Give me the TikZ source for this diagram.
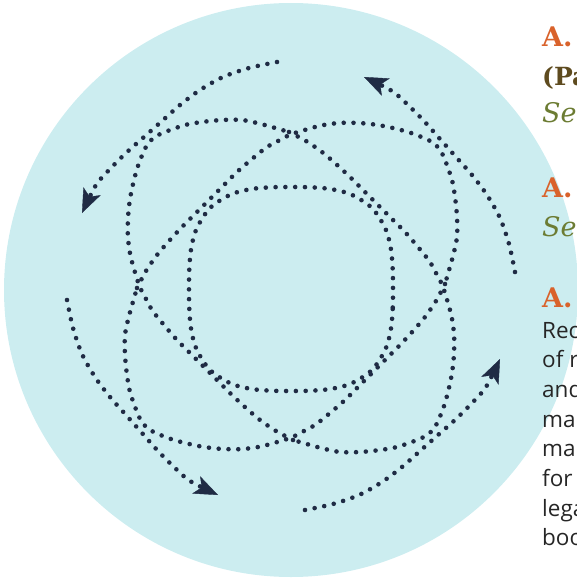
\documentclass[tikz,border=0pt]{standalone}
\usepackage{fontspec}
\usepackage{xcolor}
\usepackage{tikz}
\usetikzlibrary{arrows.meta}
\newfontfamily\slabfont{DejaVu Serif}
\newfontfamily\bodyfont{Open Sans}
\definecolor{ringcyan}{HTML}{CCEDF0}
\definecolor{dotnavy}{HTML}{1F2B44}
\definecolor{headorange}{HTML}{D9622B}
\definecolor{partbrown}{HTML}{5E4B1F}
\definecolor{seegreen}{HTML}{6C7C33}
\definecolor{bodygray}{HTML}{262626}

\begin{document}
\begin{tikzpicture}[
  x=1pt, y=-1pt,
  dots/.style={draw=dotnavy, line width=4.6pt, line cap=round,
               dash pattern=on 0pt off 9.8pt},
  arr/.style={dots, -{Stealth[length=24pt,width=19pt,inset=6pt,line width=0.4pt]}},
  hd/.style={anchor=base west, inner sep=0pt, text=headorange,
             font=\slabfont\bfseries\fontsize{27}{32}\selectfont},
  part/.style={hd, text=partbrown, font=\slabfont\bfseries\fontsize{25}{30}\selectfont},
  see/.style={hd, text=seegreen, font=\slabfont\itshape\fontsize{27}{32}\selectfont},
  body/.style={anchor=base west, inner sep=0pt, text=bodygray,
               font=\bodyfont\fontsize{22.5}{29.7}\selectfont}
]
  \useasboundingbox (0,0) rectangle (577,578);
  \clip (0,0) rectangle (577,578);
  \fill[ringcyan] (291,290) circle[radius=287];

  % two crossing ovals (half each turn) and the four arrows
  \foreach \a in {0,90,180,270}{
    \begin{scope}[shift={(291,286)}, rotate=\a]
      \draw[dots] plot[smooth] coordinates {
        (-154,2) (-145,-15) (-134,-31) (-122,-45) (-109,-59) (-96,-72)
        (-82,-86) (-68,-100) (-54,-114) (-39,-127) (-24,-139) (-9,-147)
        (1,-152) (28,-160) (48,-163) (68,-163) (87,-161) (106,-157)
        (123,-152) (141,-144) (149,-136) (154,-126) (161,-106) (164,-89)
        (166,-69) (166,-49) (162,-30) (154,-2)};
      \draw[arr] plot[smooth] coordinates {
        (-224,14) (-218,42) (-209,68) (-196,91) (-181,111) (-165,129)
        (-149,147) (-133,165) (-117,181) (-101,195) (-73,209)};
    \end{scope}
  }

  % inner ring
  \begin{scope}[shift={(291,289)}]
    \draw[dots] plot[smooth cycle] coordinates {
      (102,0) (101.7,20) (99.9,40) (94.6,60) (81,81) (60,94.6) (40,99.9) (20,101.7)
      (0,102) (-20,101.7) (-40,99.9) (-60,94.6) (-81,81) (-94.6,60) (-99.9,40) (-101.7,20)
      (-102,0) (-101.7,-20) (-99.9,-40) (-94.6,-60) (-81,-81) (-60,-94.6) (-40,-99.9) (-20,-101.7)
      (0,-102) (20,-101.7) (40,-99.9) (60,-94.6) (81,-81) (94.6,-60) (99.9,-40) (101.7,-20)};
  \end{scope}

  \node[hd] (secA) at (542,47) {A.};
  \node[part] (partA) at (542,85) {(Pa};
  \node[see] (seeA) at (542,122) {Se};
  \node[hd] (secB) at (542,197) {A.};
  \node[see] (seeB) at (542,236) {Se};
  \node[hd] (secC) at (542,307) {A.};

  \node[body] (lnA) at (542,338) {Rec};
  \node[body] (lnB) at (542,367.7) {of r};
  \node[body] (lnC) at (542,397.4) {and};
  \node[body] (lnD) at (542,427.1) {ma};
  \node[body] (lnE) at (542,456.8) {ma};
  \node[body] (lnF) at (542,486.5) {for};
  \node[body] (lnG) at (542,516.2) {lega};
  \node[body] (lnH) at (542,545.9) {boo};
\end{tikzpicture}
\end{document}
